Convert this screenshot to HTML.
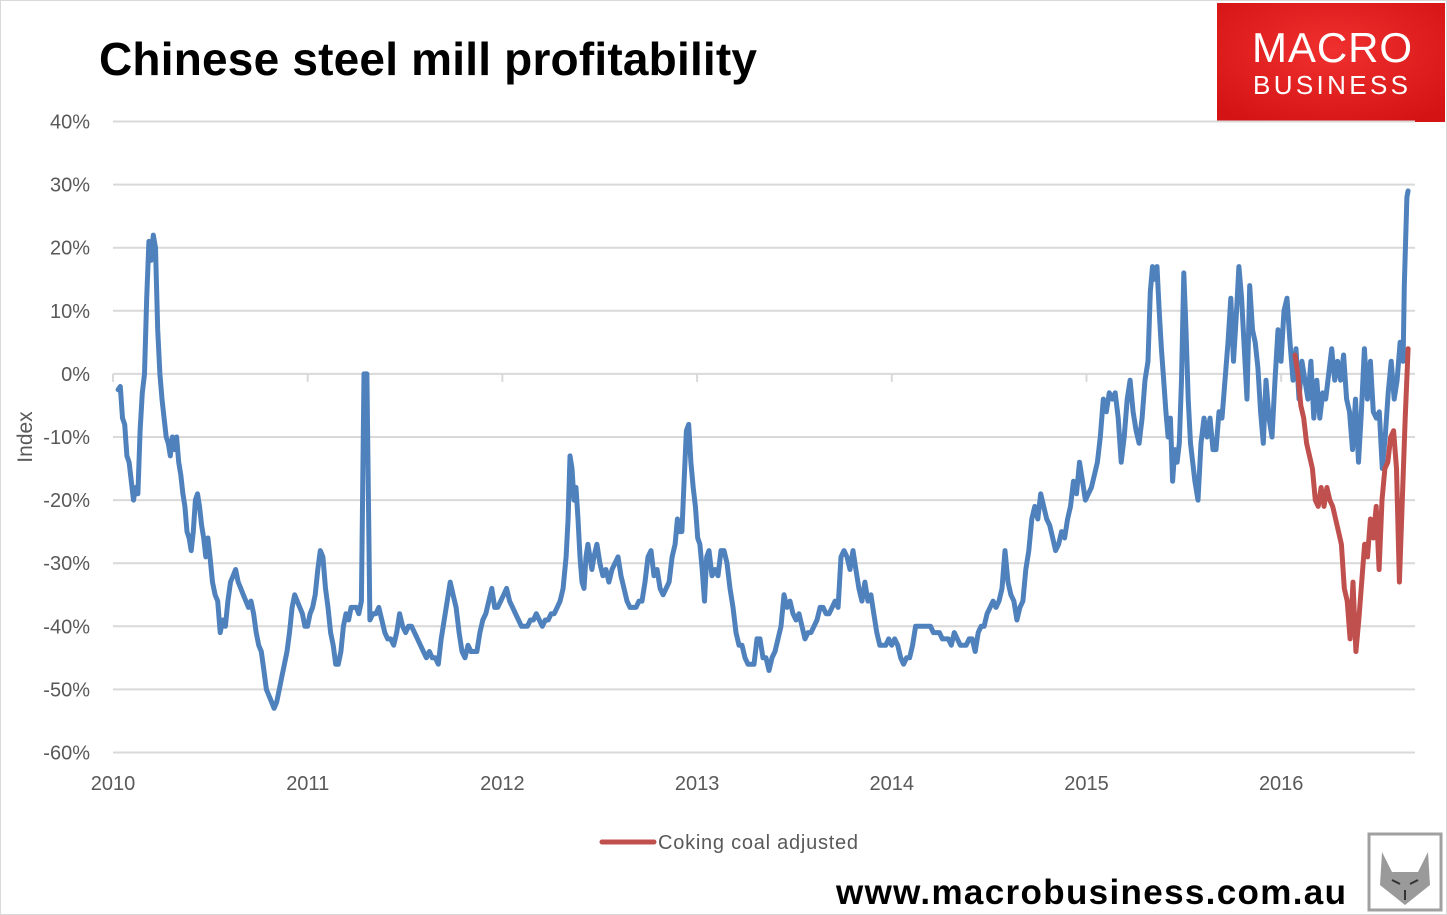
<!DOCTYPE html>
<html><head><meta charset="utf-8">
<style>
html,body{margin:0;padding:0;background:#fff;}
body{width:1447px;height:915px;overflow:hidden;position:relative;font-family:"Liberation Sans",sans-serif;}
</style></head>
<body>
<svg id="chart" width="1447" height="915" xmlns="http://www.w3.org/2000/svg" style="position:absolute;left:0;top:0">
  <rect x="0.5" y="0.5" width="1446" height="914" fill="none" stroke="#d9d9d9"/>
  <text x="99" y="75" font-size="46" font-weight="bold" fill="#000" textLength="658">Chinese steel mill profitability</text>
  <g>
    <defs><radialGradient id="lg" cx="50%" cy="40%" r="70%"><stop offset="0" stop-color="#f0302f"/><stop offset="1" stop-color="#d41414"/></radialGradient></defs>
    <rect x="1217" y="3" width="228" height="119" fill="url(#lg)"/>
    <text x="1332" y="62" font-size="42" fill="#fff" text-anchor="middle" textLength="160">MACRO</text>
    <text x="1332" y="94" font-size="26" fill="#fff" text-anchor="middle" letter-spacing="3" textLength="158">BUSINESS</text>
  </g>
  <g id="grid"></g>
  <g id="yticks"></g>
  <g id="xticks"></g>
  <text transform="translate(32,437) rotate(-90)" font-size="21" fill="#595959" text-anchor="middle">Index</text>
  <g id="series"></g>
  <g>
    <line x1="602" y1="842" x2="654" y2="842" stroke="#C0504D" stroke-width="5" stroke-linecap="round"/>
    <text x="658" y="849" font-size="20" fill="#595959" textLength="200">Coking coal adjusted</text>
  </g>
  <text x="836" y="904" font-size="35" font-weight="bold" fill="#000" textLength="510">www.macrobusiness.com.au</text>
  <g>
    <rect x="1369" y="834" width="72" height="76" fill="#fff" stroke="#a0a0a0" stroke-width="3"/>
    <path d="M1382 852 L1392 872 L1418 872 L1428 852 L1430 885 L1405 905 L1380 885 Z" fill="#9a9a9a"/>
    <path d="M1392 880 L1400 884 M1410 884 L1418 880 M1405 890 L1405 900" stroke="#333" stroke-width="2"/>
  </g>
</svg>
<script>
const yTicks=[40,30,20,10,0,-10,-20,-30,-40,-50,-60];
const xYears=[2010,2011,2012,2013,2014,2015,2016];
// observation dates at selected sample indices (decimal years)
const blueAnchorIdx=[0,19,43,103,171,185,212,227,270,325,374,395,406,420,430,466];
const blueAnchorDate=[2010.026,2010.241,2010.498,2011.289,2012.327,2012.470,2012.887,2013.061,2013.724,2014.566,2015.316,2015.557,2015.727,2015.922,2016.076,2016.626];
const blueEnd=2016.652;
const blueValues=[-2.5,-2,-7,-8,-13,-14,-17,-20,-18,-19,-9,-3,0,12,21,18,22,20,7,0,-4,-7,-10,-11,-13,-10,-12,-10,-14,-16,-19,-21,-25,-26,-28,-25,-20,-19,-21,-24,-26,-29,-26,-29,-33,-35,-36,-41,-39,-40,-36,-33,-32,-31,-33,-34,-35,-36,-37,-36,-38,-41,-43,-44,-47,-50,-51,-52,-53,-52,-50,-48,-46,-44,-41,-37,-35,-36,-37,-38,-40,-40,-38,-37,-35,-31,-28,-29,-34,-37,-41,-43,-46,-46,-44,-40,-38,-39,-37,-37,-37,-38,-36,0,0,-39,-38,-38,-37,-39,-41,-42,-42,-43,-41,-38,-40,-41,-40,-40,-41,-42,-43,-44,-45,-44,-45,-45,-46,-42,-39,-36,-33,-35,-37,-41,-44,-45,-43,-44,-44,-44,-41,-39,-38,-36,-34,-37,-37,-36,-35,-34,-36,-37,-38,-39,-40,-40,-40,-39,-39,-38,-39,-40,-39,-39,-38,-38,-37,-36,-34,-29,-23,-13,-15,-20,-18,-23,-29,-33,-34,-29,-27,-29,-31,-29,-27,-30,-32,-31,-33,-31,-30,-29,-32,-34,-36,-37,-37,-37,-36,-36,-33,-29,-28,-32,-31,-34,-35,-34,-33,-29,-27,-23,-25,-25,-17,-9,-8,-14,-18,-21,-26,-27,-31,-36,-29,-28,-32,-31,-32,-28,-28,-30,-34,-37,-41,-43,-43,-45,-46,-46,-46,-42,-42,-45,-45,-47,-45,-44,-42,-40,-35,-37,-36,-38,-39,-38,-40,-42,-41,-41,-40,-39,-37,-37,-38,-38,-37,-36,-37,-29,-28,-29,-31,-28,-31,-34,-36,-33,-36,-35,-38,-41,-43,-43,-43,-42,-43,-42,-43,-45,-46,-45,-45,-43,-40,-40,-40,-40,-40,-40,-41,-41,-41,-42,-42,-42,-43,-41,-42,-43,-43,-43,-42,-42,-44,-41,-40,-40,-38,-37,-36,-37,-36,-34,-28,-33,-35,-36,-39,-37,-36,-31,-28,-23,-21,-23,-19,-21,-23,-24,-26,-28,-27,-25,-26,-23,-21,-17,-19,-14,-17,-20,-19,-18,-16,-14,-10,-4,-6,-3,-4,-3,-7,-14,-10,-4,-1,-6,-9,-11,-7,-1,2,13,17,15,17,10,4,-1,-6,-10,-7,-17,-12,-14,-11,-1,16,7,-4,-11,-14,-17,-20,-11,-7,-10,-7,-12,-12,-6,-7,-1,5,12,2,9,17,12,4,-4,14,7,5,1,-6,-11,-1,-7,-10,-1,7,2,10,12,5,-1,4,-4,2,-1,-4,2,-7,-1,-7,-3,-4,0,4,-1,2,-1,3,-4,-6,-12,-4,-14,-6,4,-4,2,-6,-7,-6,-15,-10,-3,2,-4,-1,5,2,14,21,28,29];
const redStart=2016.071, redEnd=2016.652;
const redValues=[3,0,-5,-7,-11,-13,-15,-20,-21,-18,-21,-18,-20,-21,-23,-25,-27,-34,-36,-42,-33,-44,-39,-33,-27,-29,-23,-26,-21,-31,-20,-15,-14,-10,-9,-15,-33,-20,-7,4];

const X0=113, PXY=194.7, Y0=373.9, PXV=6.31;
const xs=t=>X0+(t-2010)*PXY;
const ys=v=>Y0-v*PXV;
const NS="http://www.w3.org/2000/svg";
function mk(tag,attrs,parent){const e=document.createElementNS(NS,tag);for(const k in attrs)e.setAttribute(k,attrs[k]);parent.appendChild(e);return e;}
const grid=document.getElementById('grid'),yt=document.getElementById('yticks'),xt=document.getElementById('xticks'),ser=document.getElementById('series');
yTicks.forEach(v=>{
  const l=mk('line',{x1:X0,x2:1415,y1:ys(v),y2:ys(v),stroke:'#d9d9d9','stroke-width':2},grid);
  
  
  const t=mk('text',{x:90,y:ys(v)+7,'font-size':20,fill:'#595959','text-anchor':'end'},yt);
  t.textContent=v+'%';
  
  
});
xYears.forEach(y=>{
  const tk=mk('line',{x1:xs(y),x2:xs(y),y1:Y0,y2:Y0+8,stroke:'#d9d9d9','stroke-width':2},grid);
  
  
  const t=mk('text',{x:xs(y),y:790,'font-size':20,fill:'#595959','text-anchor':'middle'},xt);
  t.textContent=y;
  
  
});
function blueDate(i){
  const idx=blueAnchorIdx.slice(), dt=blueAnchorDate.slice();
  const last=blueValues.length-1;
  if(last>idx[idx.length-1]){idx.push(last);dt.push(blueEnd);}
  for(let k=0;k<idx.length-1;k++){
    if(i>=idx[k]&&i<=idx[k+1]) return dt[k]+(dt[k+1]-dt[k])*(i-idx[k])/(idx[k+1]-idx[k]);
  }
  return dt[dt.length-1];
}
function draw(d,color,name){
  const p=mk('path',{d:d,fill:'none',stroke:color,'stroke-width':5,'stroke-linejoin':'round','stroke-linecap':'round'},ser);
  
  
}
draw(blueValues.map((v,i)=>(i?'L':'M')+xs(blueDate(i)).toFixed(1)+' '+ys(v).toFixed(1)).join(' '),'#4F81BD','series-profitability-line');
const rn=redValues.length;
draw(redValues.map((v,i)=>(i?'L':'M')+xs(redStart+(redEnd-redStart)*i/(rn-1)).toFixed(1)+' '+ys(v).toFixed(1)).join(' '),'#C0504D','series-coking-coal-adjusted-line');
</script>
</body></html>
